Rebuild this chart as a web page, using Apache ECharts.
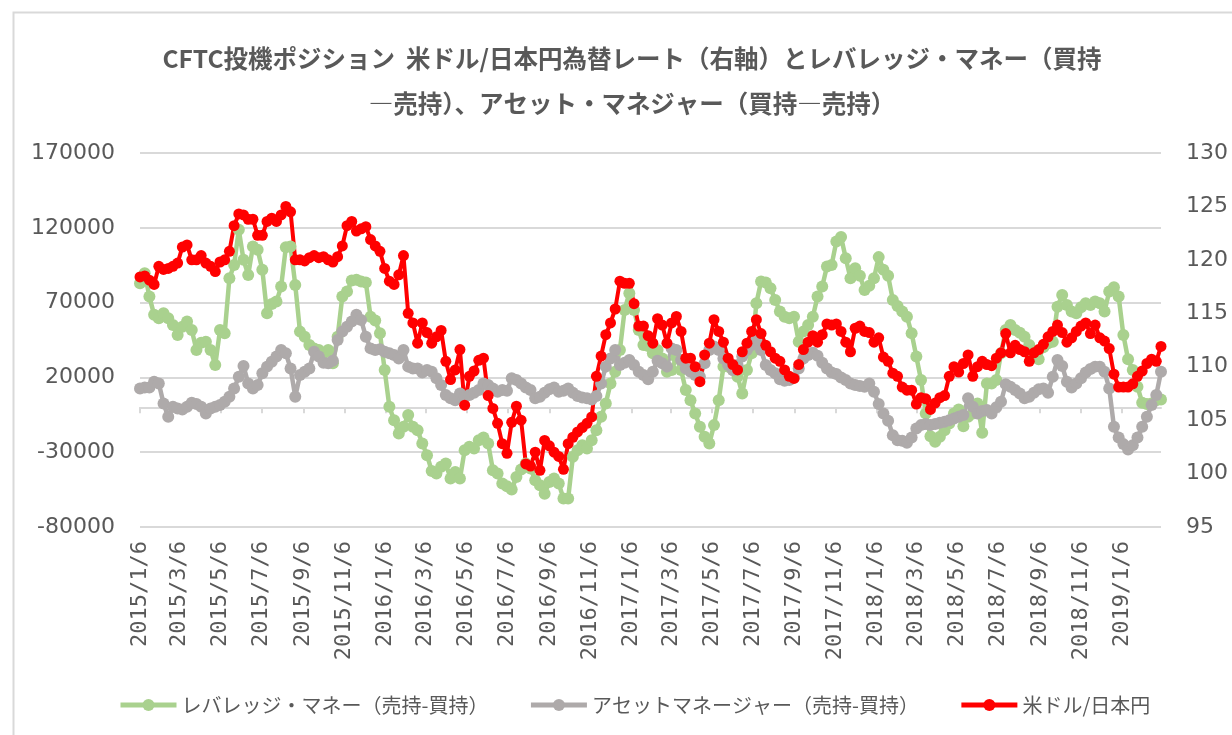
<!DOCTYPE html>
<html>
<head>
<meta charset="utf-8">
<script src="https://cdn.jsdelivr.net/npm/echarts@6/dist/echarts.min.js"></script>
<style>
html,body{margin:0;padding:0;background:#fff;}
#chart{width:1232px;height:735px;}
</style>
</head>
<body>
<div id="chart"></div>
<script>
// Weekly CFTC data starting 2015/1/6 (one value per week)
const startDate = '2015/1/6';

const tickLabels = ['2015/1/6','2015/3/6','2015/5/6','2015/7/6','2015/9/6','2015/11/6',
  '2016/1/6','2016/3/6','2016/5/6','2016/7/6','2016/9/6','2016/11/6',
  '2017/1/6','2017/3/6','2017/5/6','2017/7/6','2017/9/6','2017/11/6',
  '2018/1/6','2018/3/6','2018/5/6','2018/7/6','2018/9/6','2018/11/6','2019/1/6'];

const leveragedMoney = [
  83000,89600,74000,61800,59500,62900,59500,55000,48400,53900,57300,51700,38300,43200,43900,38300,28300,51700,49500,86300,
  95200,118700,98600,88500,107500,105300,91900,62900,69100,70700,80700,107000,107500,81800,50600,47200,41700,39400,38300,36100,
  38300,29400,47200,74000,77400,84700,85200,84100,83400,60600,58000,49500,24900,400,-8600,-17500,-13000,-5200,-13000,-15300,
  -24200,-32000,-42500,-44300,-39800,-37600,-47600,-43200,-47600,-28700,-26400,-27500,-22000,-20200,-24200,-42000,-44300,-51000,-52700,-55000,
  -46500,-41600,-37600,-40900,-48700,-52100,-57700,-49900,-47600,-51000,-61000,-61000,-33100,-28700,-25300,-27500,-22000,-15300,-6300,2600,
  16000,23800,38300,65100,76300,65100,51700,41700,41000,36100,38300,32700,23800,24900,33400,24900,11500,4800,-4100,-13000,
  -19700,-24200,-11900,4800,27200,27200,24900,20500,9300,24900,36100,69600,84100,83400,79600,71800,64000,60600,59500,60600,
  43900,50600,55000,60600,74000,80700,94100,95200,110900,113800,99700,86300,93000,87900,78500,81200,86300,100400,91900,87900,
  71800,67800,64000,60600,49500,33900,18200,-4100,-19300,-23000,-19700,-15300,-10800,-4100,-1400,-12600,-6300,-4100,2600,-17000,
  16000,16000,18200,36100,51700,55000,51700,49900,47200,41700,33900,32100,40100,42800,43900,67300,75100,68400,64000,62900,
  66900,69600,68400,70700,69600,64000,77400,80300,74000,48400,32100,24900,13800,3100,2200,2600,4800,5300
];

const assetManager = [
  12600,13300,13300,17100,16000,2600,-6300,400,-800,-1400,400,3100,2200,400,-4100,-800,400,1500,3700,7100,
  12600,20400,27600,16000,12600,14900,22700,27200,30500,33900,38300,36100,26000,7100,21600,23800,26000,37200,33900,29800,
  29400,31200,45000,50600,53900,57300,61800,58400,47200,39400,38300,38800,37200,36100,35000,32700,38300,27200,26000,26000,
  23200,24900,23800,19400,14900,8200,6000,4800,9300,7100,8200,9800,11500,16000,14900,12600,10400,11500,11100,19400,
  18200,16000,13300,11500,6000,7100,9800,12000,13300,10400,11100,12600,9800,7500,6600,6000,5300,7500,16000,27200,
  32700,38300,28300,29800,31600,28300,23800,21600,18700,23800,31200,29400,27200,39400,38300,31600,26000,23800,21600,20500,
  29400,38300,40600,38300,32700,28300,24900,28300,33900,38300,41700,45000,38300,28300,24900,22700,18700,17800,18200,20000,
  26000,32700,35000,36500,34500,29800,26000,23200,22200,20000,18200,16000,14900,14200,13800,16000,10400,2200,-4100,-9000,
  -18600,-22000,-22400,-23700,-20200,-14100,-11900,-11200,-11900,-11200,-10300,-9700,-8600,-7500,-6300,-5200,6000,400,-4100,-2500,
  -1800,-4100,0,3700,15500,13800,11500,9300,6000,7100,9800,12000,12600,9800,20500,31600,27600,17100,13300,16000,
  19400,23200,25600,27200,27200,23800,12600,-13000,-20200,-24600,-28200,-25300,-20200,-13000,-6300,1500,8200,23800
];

const usdJpy = [
  118.4,118.5,118.1,117.7,119.4,119.1,119.2,119.4,119.7,121.2,121.4,120.0,120.0,120.4,119.7,119.4,118.9,119.8,120.0,120.8,
  123.2,124.3,124.2,123.8,123.8,122.3,122.3,123.6,123.9,123.6,124.2,125.0,124.5,120.0,120.0,119.9,120.2,120.4,120.2,120.3,
  120.0,119.8,120.3,121.3,123.2,123.6,122.7,122.9,123.1,121.9,121.3,120.8,119.2,118.0,117.7,118.6,120.4,115.0,114.1,112.2,
  114.1,113.2,112.2,112.8,113.4,110.5,108.8,109.7,111.6,106.4,109.1,109.6,110.6,110.8,107.3,106.1,104.7,102.8,101.9,104.8,
  106.3,105.0,100.9,100.7,102.0,100.3,103.1,102.6,102.0,101.6,100.4,102.8,103.4,103.9,104.3,104.7,105.3,109.1,111.0,113.0,
  114.1,115.4,118.0,117.8,117.8,115.9,113.8,113.8,112.9,112.2,114.5,113.9,112.2,114.1,114.7,113.3,110.8,110.8,110.0,108.6,
  111.1,112.2,114.4,113.3,112.3,110.8,110.2,109.7,111.4,112.2,113.3,114.4,113.1,112.0,111.4,110.8,110.5,109.7,109.1,108.9,
  110.2,111.6,112.3,112.9,112.3,113.0,114.0,113.9,114.0,113.3,112.3,111.4,113.6,113.8,113.3,113.2,112.3,112.7,110.9,110.5,
  109.4,109.1,108.1,107.8,107.8,106.5,107.1,107.0,106.0,106.6,107.1,107.3,109.1,110.0,109.5,110.3,111.1,109.1,110.0,110.5,
  110.2,110.1,110.8,111.3,113.1,111.3,112.0,111.6,111.4,110.5,111.3,111.6,112.1,112.8,113.3,113.9,113.2,112.3,112.7,113.3,
  113.8,114.1,113.1,113.9,112.7,112.4,111.7,109.3,108.1,108.1,108.1,108.4,109.1,109.6,110.3,110.7,110.5,111.9
];

const seriesNames = ['レバレッジ・マネー（売持-買持）', 'アセットマネージャー（売持-買持）', '米ドル/日本円'];
const titleText = 'CFTC投機ポジション  米ドル/日本円為替レート（右軸）とレバレッジ・マネー（買持\n―売持）、アセット・マネジャー（買持―売持）';

function dayOffset(s) {
  const p = s.split('/').map(Number);
  const q = startDate.split('/').map(Number);
  return Math.round((Date.UTC(p[0], p[1] - 1, p[2]) - Date.UTC(q[0], q[1] - 1, q[2])) / 86400000);
}
const tickOffsets = tickLabels.map(dayOffset);
const labelMap = {};
tickLabels.forEach((l, i) => { labelMap[tickOffsets[i]] = l; });

function weekly(arr) { return arr.map((v, i) => [i * 7, v]); }
const lastOffset = (usdJpy.length - 1) * 7;

const axisFont = { fontFamily: 'DejaVu Sans', fontSize: 22, color: '#595959' };

const chart = echarts.init(document.getElementById('chart'));
chart.setOption({
  backgroundColor: '#ffffff',
  animation: false,
  graphic: [{
    type: 'rect', left: 11, top: 10, silent: true,
    shape: { width: 1400, height: 900 },
    style: { fill: 'none', stroke: '#D9D9D9', lineWidth: 2 }
  }],
  title: {
    text: titleText,
    left: 627, top: 31, textAlign: 'center',
    textStyle: { fontFamily: 'Noto Sans CJK JP', fontSize: 24.5, fontWeight: 'bold', color: '#595959', lineHeight: 45 }
  },
  legend: {
    data: seriesNames,
    left: 113, top: 690,
    itemWidth: 56, itemHeight: 15, itemGap: 40,
    lineStyle: { width: 5 },
    textStyle: { fontFamily: 'Noto Sans CJK JP', fontSize: 20, color: '#595959' }
  },
  grid: { left: 140, right: 71, top: 153, bottom: 208, containLabel: false },
  xAxis: {
    type: 'value', min: 0, max: lastOffset,
    axisLine: { show: true, lineStyle: { color: '#D9D9D9', width: 2 } },
    axisTick: { show: true, customValues: tickOffsets, length: 6, lineStyle: { color: '#D9D9D9', width: 2 } },
    axisLabel: Object.assign({ customValues: tickOffsets, rotate: 90, margin: 14,
      formatter: v => labelMap[v] || '' }, axisFont, { fontFamily: 'DejaVu Sans Mono' }),
    splitLine: { show: false }
  },
  yAxis: [{
    type: 'value', min: -80000, max: 170000, interval: 50000,
    axisLine: { show: false }, axisTick: { show: false },
    axisLabel: Object.assign({ margin: 25, formatter: v => String(v) }, axisFont),
    splitLine: { show: true, lineStyle: { color: '#D9D9D9', width: 2 } }
  }, {
    type: 'value', min: 95, max: 130, interval: 5,
    axisLine: { show: false }, axisTick: { show: false },
    axisLabel: Object.assign({ margin: 25, formatter: v => String(v) }, axisFont),
    splitLine: { show: false }
  }],
  series: [{
    name: seriesNames[0], type: 'line', yAxisIndex: 0,
    data: weekly(leveragedMoney),
    symbol: 'circle', symbolSize: 12, showAllSymbol: true,
    lineStyle: { color: '#A9D18E', width: 4.5 }, itemStyle: { color: '#A9D18E' }
  }, {
    name: seriesNames[1], type: 'line', yAxisIndex: 0,
    data: weekly(assetManager),
    symbol: 'circle', symbolSize: 12, showAllSymbol: true,
    lineStyle: { color: '#AEAAAA', width: 4.5 }, itemStyle: { color: '#AEAAAA' }
  }, {
    name: seriesNames[2], type: 'line', yAxisIndex: 1,
    data: weekly(usdJpy),
    symbol: 'circle', symbolSize: 11, showAllSymbol: true,
    lineStyle: { color: '#FF0000', width: 4 }, itemStyle: { color: '#FF0000' }
  }]
});
</script>
</body>
</html>
